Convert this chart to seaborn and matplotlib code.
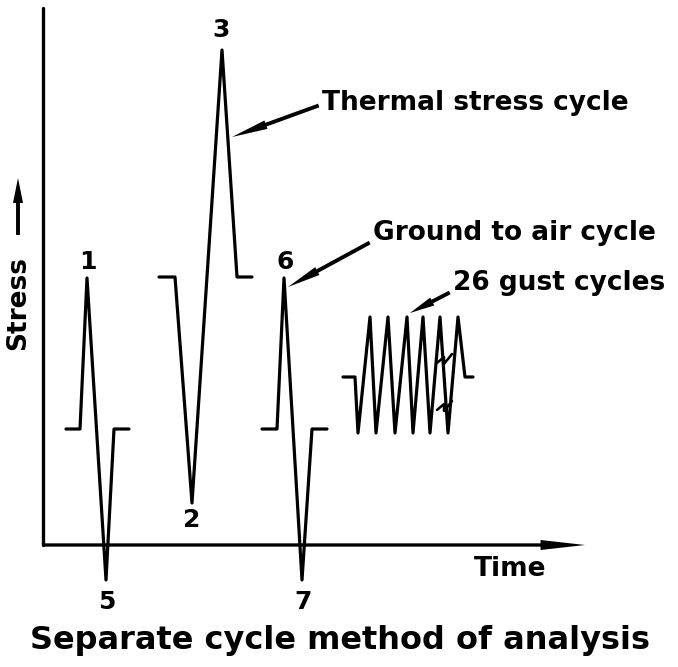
import matplotlib
matplotlib.use("Agg")
import matplotlib.pyplot as plt
import numpy as np
import pandas as pd
import seaborn as sns

# Schematic stress histories (time, stress in arbitrary units)
flight_a_time = [2.3, 3.7, 4.4, 6.3, 7.1, 8.6]
flight_a_stress = [11.6, 11.6, 26.7, -3.5, 11.6, 11.6]

thermal_time = [11.6, 13.2, 14.9, 17.9, 19.4, 20.9]
thermal_stress = [26.8, 26.8, 4.2, 49.5, 26.8, 26.8]

flight_b_time = [21.9, 23.4, 24.1, 25.9, 26.9, 28.4]
flight_b_stress = [11.6, 11.6, 26.7, -3.5, 11.6, 11.6]

gust_time = [30.0, 31.2, 31.5, 32.7, 33.3, 34.5, 35.2, 36.4, 37.0, 38.0,
             38.7, 39.7, 40.5, 41.5, 42.2, 43.0]
gust_stress = [16.8, 16.8, 11.2, 22.8, 11.2, 22.8, 11.2, 22.8, 11.2, 22.8,
               11.2, 22.8, 11.2, 22.8, 16.8, 16.8]

point_labels = ["1", "2", "3", "5", "6", "7"]
point_time = [4.5, 14.9, 17.8, 6.4, 24.2, 26.0]
point_stress = [28.3, 2.5, 51.5, -5.7, 28.3, -5.7]

sns.set_style("white")
plt.rcParams["font.family"] = ["DejaVu Sans"]

fig = plt.figure(figsize=(6.78, 6.67), dpi=100)
ax = fig.add_axes([0, 0, 1, 1])
ax.set_xlim(-4.3, 63.5)
ax.set_ylim(-12.2, 54.5)
ax.axis("off")

ink = "black"
lw = 2.3

segments = [
    ("A", flight_a_time, flight_a_stress),
    ("B", thermal_time, thermal_stress),
    ("C", flight_b_time, flight_b_stress),
    ("D", gust_time, gust_stress),
]
frames = [pd.DataFrame({"time": t, "stress": s, "seg": k}) for k, t, s in segments]
df = pd.concat(frames, ignore_index=True)
sns.lineplot(data=df, x="time", y="stress", units="seg", estimator=None,
             sort=False, color=ink, lw=lw, ax=ax, legend=False)

# Break marks on the gust block
for yb in (13.5, 18.2):
    ax.plot([39.4, 40.1, 40.1, 40.9], [yb, yb + 0.6, yb - 0.1, yb + 0.9],
            color=ink, lw=1.8)


def arrow(head_length, head_width, tail_width):
    style = (f"simple,head_length={head_length},head_width={head_width},"
             f"tail_width={tail_width}")
    return dict(arrowstyle=style, mutation_scale=20, fc=ink, ec=ink, lw=0,
                shrinkA=0, shrinkB=0)


# Axes: vertical stress axis and time axis with arrow
ax.plot([0, 0], [0, 53.7], color=ink, lw=2.4)
ax.annotate("", xy=(54.2, 0), xytext=(0, 0), arrowprops=arrow(1.6, 0.36, 0.12))

# Axis titles
ax.text(-2.5, 24.2, "Stress", rotation=90, ha="center", va="center",
        fontsize=19, fontweight="bold", color=ink)
ax.annotate("", xy=(-2.5, 36.7), xytext=(-2.5, 31.0),
            arrowprops=arrow(0.9, 0.36, 0.14))
ax.text(46.7, -2.4, "Time", ha="center", va="center", fontsize=19,
        fontweight="bold", color=ink)

# Point numbers
for lab, t, s in zip(point_labels, point_time, point_stress):
    ax.text(t, s, lab, ha="center", va="center", fontsize=18,
            fontweight="bold", color=ink)


# Callouts
def callout(text, tip, anchor, rel, head_length):
    props = arrow(head_length, 0.32, 0.14)
    props["relpos"] = rel
    ax.annotate(text, xy=tip, xytext=anchor, ha="left", va="center",
                fontsize=19, fontweight="bold", color=ink, arrowprops=props)


callout("Thermal stress cycle", (18.9, 40.8), (27.9, 44.2), (0.0, 0.45), 1.3)
callout("Ground to air cycle", (24.5, 25.8), (33.0, 31.2), (0.0, 0.2), 1.2)
callout("26 gust cycles", (36.7, 23.2), (41.0, 26.2), (0.0, 0.2), 0.9)

ax.text(29.7, -9.5, "Separate cycle method of analysis", ha="center",
        va="center", fontsize=23, fontweight="bold", color=ink)

fig.savefig("out.png", dpi=100, facecolor="white")
